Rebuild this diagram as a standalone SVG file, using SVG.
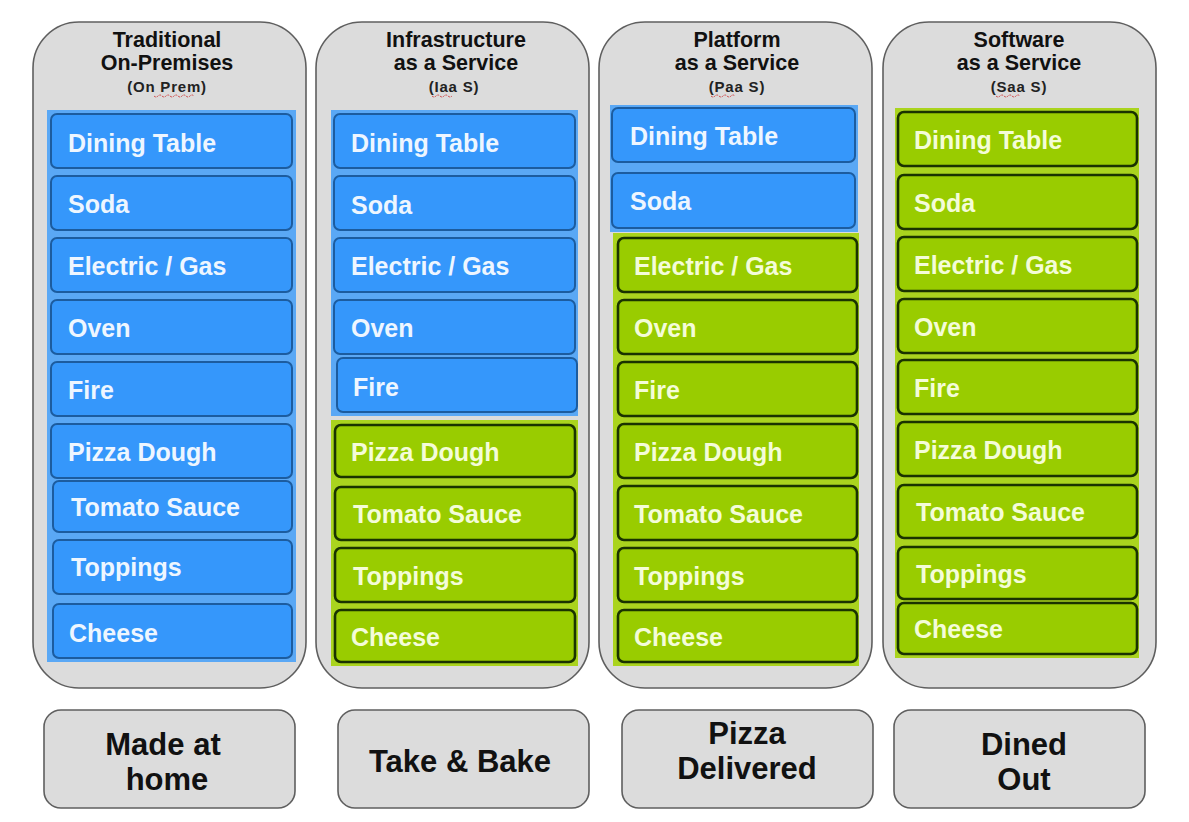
<svg xmlns="http://www.w3.org/2000/svg" width="1189" height="822" viewBox="0 0 1189 822">
<defs>
<style>
.panel{fill:#dcdcdc;stroke:#5f5f5f;stroke-width:1.6}
.hdr{font-family:"Liberation Sans",Arial,sans-serif;font-weight:bold;font-size:21.5px;fill:#111;text-anchor:middle}
.sub{font-family:"Liberation Sans",Arial,sans-serif;font-weight:bold;font-size:15px;fill:#222;text-anchor:middle;letter-spacing:0.8px}
.bb{fill:#5aa8f5}
.gb{fill:#aad41e}
.b{fill:#3597fb;stroke:#1c5c9f;stroke-width:2}
.g{fill:#99cc00;stroke:#1a3300;stroke-width:2.6}
.bt{font-family:"Liberation Sans",Arial,sans-serif;font-weight:bold;font-size:25px;fill:#eef6ff}
.gt{font-family:"Liberation Sans",Arial,sans-serif;font-weight:bold;font-size:25px;fill:#f4fcd8}
.box{fill:#dcdcdc;stroke:#5f5f5f;stroke-width:1.6}
.lbl{font-family:"Liberation Sans",Arial,sans-serif;font-weight:bold;font-size:31px;fill:#111;text-anchor:middle}
.sq{fill:none;stroke:#d04848;stroke-width:1;stroke-dasharray:2 1}
</style>
</defs>

<!-- Column 1 -->
<g id="col-onprem">
<rect class="panel" x="33" y="22" width="273" height="666" rx="46"/>
<text class="hdr" x="167" y="47">Traditional</text>
<text class="hdr" x="167" y="70">On-Premises</text>
<text class="sub" x="167" y="92">(On Prem)</text>
<path class="sq" d="M154 96 q2 2 4 0 t4 0 t4 0 t4 0 t4 0 t4 0 t4 0 t4 0 t4 0 t4 0"/>
<rect class="bb" x="47" y="110" width="249" height="552"/>
<g id="c1-dining"><rect class="b" x="51" y="114" width="241" height="54" rx="6"/><text class="bt" x="68" y="152">Dining Table</text></g>
<g id="c1-soda"><rect class="b" x="51" y="176" width="241" height="54" rx="6"/><text class="bt" x="68" y="213">Soda</text></g>
<g id="c1-elec"><rect class="b" x="51" y="238" width="241" height="54" rx="6"/><text class="bt" x="68" y="275">Electric / Gas</text></g>
<g id="c1-oven"><rect class="b" x="51" y="300" width="241" height="54" rx="6"/><text class="bt" x="68" y="337">Oven</text></g>
<g id="c1-fire"><rect class="b" x="51" y="362" width="241" height="54" rx="6"/><text class="bt" x="68" y="399">Fire</text></g>
<g id="c1-dough"><rect class="b" x="51" y="424" width="241" height="54" rx="6"/><text class="bt" x="68" y="461">Pizza Dough</text></g>
<g id="c1-sauce"><rect class="b" x="53" y="481" width="239" height="51" rx="6"/><text class="bt" x="71" y="516">Tomato Sauce</text></g>
<g id="c1-top"><rect class="b" x="53" y="540" width="239" height="54" rx="6"/><text class="bt" x="71" y="576">Toppings</text></g>
<g id="c1-cheese"><rect class="b" x="53" y="604" width="239" height="54" rx="6"/><text class="bt" x="69" y="642">Cheese</text></g>
</g>

<!-- Column 2 -->
<g id="col-iaas">
<rect class="panel" x="316" y="22" width="273" height="666" rx="46"/>
<text class="hdr" x="456" y="47">Infrastructure</text>
<text class="hdr" x="456" y="70">as a Service</text>
<text class="sub" x="454" y="92">(Iaa S)</text>
<path class="sq" d="M432 96 q2 2 4 0 t4 0 t4 0 t4 0 t4 0"/>
<rect class="bb" x="331" y="110" width="247" height="306"/>
<rect class="gb" x="331" y="420" width="247" height="246"/>
<g id="c2-dining"><rect class="b" x="334" y="114" width="241" height="54" rx="6"/><text class="bt" x="351" y="152">Dining Table</text></g>
<g id="c2-soda"><rect class="b" x="334" y="176" width="241" height="54" rx="6"/><text class="bt" x="351" y="214">Soda</text></g>
<g id="c2-elec"><rect class="b" x="334" y="238" width="241" height="54" rx="6"/><text class="bt" x="351" y="275">Electric / Gas</text></g>
<g id="c2-oven"><rect class="b" x="334" y="300" width="241" height="54" rx="6"/><text class="bt" x="351" y="337">Oven</text></g>
<g id="c2-fire"><rect class="b" x="337" y="358" width="240" height="54" rx="6"/><text class="bt" x="353" y="396">Fire</text></g>
<g id="c2-dough"><rect class="g" x="335" y="425" width="240" height="52" rx="6"/><text class="gt" x="351" y="461">Pizza Dough</text></g>
<g id="c2-sauce"><rect class="g" x="335" y="487" width="240" height="53" rx="6"/><text class="gt" x="353" y="523">Tomato Sauce</text></g>
<g id="c2-top"><rect class="g" x="335" y="548" width="240" height="54" rx="6"/><text class="gt" x="353" y="585">Toppings</text></g>
<g id="c2-cheese"><rect class="g" x="335" y="610" width="240" height="52" rx="6"/><text class="gt" x="351" y="646">Cheese</text></g>
</g>

<!-- Column 3 -->
<g id="col-paas">
<rect class="panel" x="599" y="22" width="273" height="666" rx="46"/>
<text class="hdr" x="737" y="47">Platform</text>
<text class="hdr" x="737" y="70">as a Service</text>
<text class="sub" x="737" y="92">(Paa S)</text>
<path class="sq" d="M711 96 q2 2 4 0 t4 0 t4 0 t4 0 t4 0 t4 0"/>
<rect class="bb" x="610" y="105" width="248" height="127"/>
<rect class="gb" x="613" y="233" width="246" height="433"/>
<g id="c3-dining"><rect class="b" x="612" y="108" width="243" height="54" rx="6"/><text class="bt" x="630" y="145">Dining Table</text></g>
<g id="c3-soda"><rect class="b" x="612" y="173" width="243" height="55" rx="6"/><text class="bt" x="630" y="210">Soda</text></g>
<g id="c3-elec"><rect class="g" x="618" y="238" width="239" height="54" rx="6"/><text class="gt" x="634" y="275">Electric / Gas</text></g>
<g id="c3-oven"><rect class="g" x="618" y="300" width="239" height="54" rx="6"/><text class="gt" x="634" y="337">Oven</text></g>
<g id="c3-fire"><rect class="g" x="618" y="362" width="239" height="54" rx="6"/><text class="gt" x="634" y="399">Fire</text></g>
<g id="c3-dough"><rect class="g" x="618" y="424" width="239" height="54" rx="6"/><text class="gt" x="634" y="461">Pizza Dough</text></g>
<g id="c3-sauce"><rect class="g" x="618" y="486" width="239" height="54" rx="6"/><text class="gt" x="634" y="523">Tomato Sauce</text></g>
<g id="c3-top"><rect class="g" x="618" y="548" width="239" height="54" rx="6"/><text class="gt" x="634" y="585">Toppings</text></g>
<g id="c3-cheese"><rect class="g" x="618" y="610" width="239" height="52" rx="6"/><text class="gt" x="634" y="646">Cheese</text></g>
</g>

<!-- Column 4 -->
<g id="col-saas">
<rect class="panel" x="883" y="22" width="273" height="666" rx="46"/>
<text class="hdr" x="1019" y="47">Software</text>
<text class="hdr" x="1019" y="70">as a Service</text>
<text class="sub" x="1019" y="92">(Saa S)</text>
<path class="sq" d="M996 96 q2 2 4 0 t4 0 t4 0 t4 0 t4 0 t4 0"/>
<rect class="gb" x="895" y="108" width="244" height="550"/>
<g id="c4-dining"><rect class="g" x="898" y="112" width="239" height="54" rx="6"/><text class="gt" x="914" y="149">Dining Table</text></g>
<g id="c4-soda"><rect class="g" x="898" y="175" width="239" height="54" rx="6"/><text class="gt" x="914" y="212">Soda</text></g>
<g id="c4-elec"><rect class="g" x="898" y="237" width="239" height="54" rx="6"/><text class="gt" x="914" y="274">Electric / Gas</text></g>
<g id="c4-oven"><rect class="g" x="898" y="299" width="239" height="54" rx="6"/><text class="gt" x="914" y="336">Oven</text></g>
<g id="c4-fire"><rect class="g" x="898" y="360" width="239" height="54" rx="6"/><text class="gt" x="914" y="397">Fire</text></g>
<g id="c4-dough"><rect class="g" x="898" y="422" width="239" height="54" rx="6"/><text class="gt" x="914" y="459">Pizza Dough</text></g>
<g id="c4-sauce"><rect class="g" x="898" y="485" width="239" height="53" rx="6"/><text class="gt" x="916" y="521">Tomato Sauce</text></g>
<g id="c4-top"><rect class="g" x="898" y="547" width="239" height="52" rx="6"/><text class="gt" x="916" y="583">Toppings</text></g>
<g id="c4-cheese"><rect class="g" x="898" y="603" width="239" height="51" rx="6"/><text class="gt" x="914" y="638">Cheese</text></g>
</g>

<!-- Bottom labels -->
<g id="lbl-home"><rect class="box" x="44" y="710" width="251" height="98" rx="17"/><text class="lbl" x="163" y="755">Made at</text><text class="lbl" x="167" y="790">home</text></g>
<g id="lbl-takebake"><rect class="box" x="338" y="710" width="251" height="98" rx="17"/><text class="lbl" x="460" y="772">Take &amp; Bake</text></g>
<g id="lbl-delivered"><rect class="box" x="622" y="710" width="251" height="98" rx="17"/><text class="lbl" x="747" y="744">Pizza</text><text class="lbl" x="747" y="779">Delivered</text></g>
<g id="lbl-dined"><rect class="box" x="894" y="710" width="251" height="98" rx="17"/><text class="lbl" x="1024" y="755">Dined</text><text class="lbl" x="1024" y="790">Out</text></g>

<g id="connectors"></g>
</svg>
